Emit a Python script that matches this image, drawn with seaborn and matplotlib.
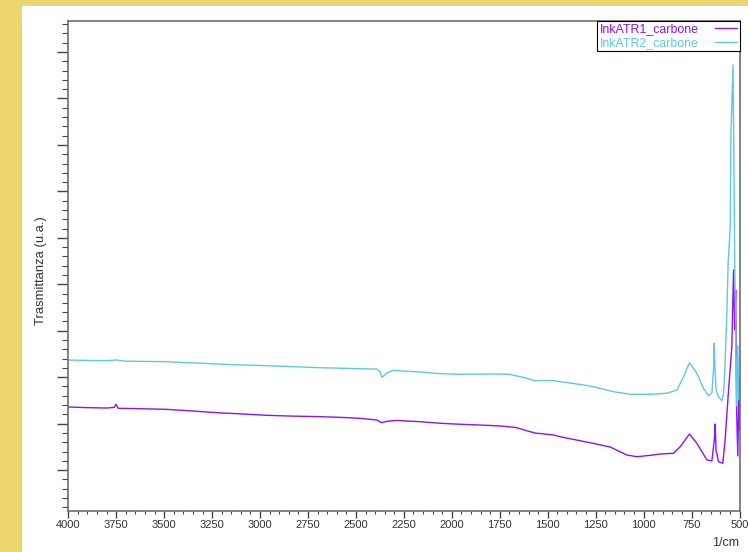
import numpy as np
import pandas as pd
import matplotlib
matplotlib.use("Agg")
import matplotlib.pyplot as plt
import seaborn as sns
from matplotlib.ticker import MultipleLocator, NullFormatter
from matplotlib.patches import Rectangle

# ---- data ----
series_names = ["InkATR1_carbone", "InkATR2_carbone"]
series_colors = ["#8a12ff", "#5cc8ea"]

ink1_wavenumber = [4000, 3900, 3800, 3760, 3751, 3740, 3650, 3490, 3350, 3229, 3100, 2969,
                   2850, 2687, 2550, 2479, 2391, 2375, 2365, 2340, 2287, 2165, 2061, 1957,
                   1850, 1748, 1665, 1620, 1566, 1470, 1435, 1263, 1174, 1087, 1035, 960,
                   914, 844, 809, 761, 722, 670, 644, 630, 627, 622, 618, 610, 587, 575,
                   557, 540, 531, 525, 520, 515, 509, 504, 500]
ink1_value = [11.79, 11.72, 11.68, 11.75, 12.08, 11.65, 11.62, 11.54, 11.36, 11.18, 11.05, 10.90,
              10.82, 10.75, 10.65, 10.57, 10.39, 10.20, 10.10, 10.25, 10.34, 10.21, 10.04, 9.93,
              9.85, 9.75, 9.58, 9.30, 8.99, 8.78, 8.59, 7.88, 7.48, 6.62, 6.44, 6.60,
              6.73, 6.81, 7.52, 8.88, 7.88, 6.09, 5.99, 8.50, 9.96, 7.00, 6.81, 5.90, 5.73, 8.24,
              13.62, 18.28, 26.54, 20.08, 24.38, 11.47, 6.52, 12.54, 9.32]

ink2_wavenumber = [4000, 3900, 3800, 3750, 3700, 3600, 3490, 3400, 3300, 3229, 3100, 2969,
                   2850, 2687, 2550, 2479, 2400, 2391, 2375, 2365, 2350, 2339, 2305, 2250,
                   2165, 2100, 2061, 1957, 1850, 1748, 1700, 1661, 1620, 1566, 1520, 1470,
                   1383, 1278, 1157, 1070, 966, 879, 826, 792, 761, 722, 688, 662, 644,
                   635, 632, 628, 622, 610, 592, 583, 575, 566, 559, 548, 545, 534, 530,
                   525, 520, 515, 509, 504, 500]
ink2_value = [16.85, 16.80, 16.78, 16.85, 16.72, 16.70, 16.67, 16.58, 16.50, 16.42, 16.32, 16.24,
              16.15, 16.02, 15.95, 15.91, 15.88, 15.88, 15.60, 14.99, 15.20, 15.45, 15.74, 15.65,
              15.56, 15.45, 15.38, 15.31, 15.33, 15.34, 15.32, 15.13, 14.95, 14.62, 14.65, 14.62,
              14.37, 14.05, 13.44, 13.16, 13.16, 13.27, 13.62, 15.05, 16.56, 15.42, 13.80, 13.01, 13.27,
              16.00, 18.65, 16.00, 13.62, 12.90, 12.47, 13.27, 16.53, 21.91, 27.29, 31.27, 40.75, 48.60, 40.53,
              27.29, 20.83, 11.90, 18.36, 12.54, 14.70]

x_ticks = [4000, 3750, 3500, 3250, 3000, 2750, 2500, 2250, 2000, 1750, 1500, 1250, 1000, 750, 500]

df = pd.concat([
    pd.DataFrame({"w": ink1_wavenumber, "v": ink1_value, "series": series_names[0]}),
    pd.DataFrame({"w": ink2_wavenumber, "v": ink2_value, "series": series_names[1]}),
], ignore_index=True)

sns.set_theme(style="white")
plt.rcParams["font.family"] = ["Liberation Sans", "DejaVu Sans"]

fig = plt.figure(figsize=(7.48, 5.52), dpi=100)
fig.patch.set_facecolor("#edd56e")
fig.patches.append(Rectangle((22 / 748, 0), (748 - 22) / 748, (552 - 6) / 552,
                             transform=fig.transFigure, facecolor="white",
                             edgecolor="none", zorder=-10))
ax = fig.add_axes([68.3 / 748, 1 - 510.5 / 552, (739.5 - 68.3) / 748, (510.5 - 21) / 552])
ax.set_zorder(5)

sns.lineplot(data=df, x="w", y="v", hue="series", hue_order=series_names,
             palette=dict(zip(series_names, series_colors)), estimator=None,
             sort=False, linewidth=1.0, ax=ax)

ax.set_xlim(4000, 500)
ax.set_ylim(0.65, 53.34)
ax.set_xticks(x_ticks)
ax.set_xticklabels([str(t) for t in x_ticks])
ax.xaxis.set_minor_locator(MultipleLocator(50))
ax.yaxis.set_major_locator(MultipleLocator(5))
ax.yaxis.set_minor_locator(MultipleLocator(1))
ax.yaxis.set_major_formatter(NullFormatter())

ax.tick_params(axis="x", which="major", direction="out", length=5, width=1,
               color="#444444", labelsize=8, labelcolor="#333333", pad=2, bottom=True)
ax.tick_params(axis="x", which="minor", direction="out", length=2.3, width=0.8,
               color="#444444", bottom=True)
ax.tick_params(axis="y", which="major", direction="out", length=8, width=1,
               color="#444444", left=True)
ax.tick_params(axis="y", which="minor", direction="out", length=4, width=0.8,
               color="#444444", left=True)

for s in ax.spines.values():
    s.set_visible(True)
    s.set_color("#6e6e6e")
    s.set_linewidth(1.2)

ax.set_ylabel("Trasmittanza (u.a.)", fontsize=9.4, color="#333333")
ax.yaxis.set_label_coords(-0.031, 0.49)
ax.set_xlabel("1/cm", loc="right", fontsize=9, color="#333333", labelpad=5)

handles, labels = ax.get_legend_handles_labels()
leg = ax.legend(handles, labels, loc="upper right", bbox_to_anchor=(1.0, 1.0),
                borderaxespad=0, markerfirst=False, fancybox=False, framealpha=1,
                edgecolor="black", fontsize=8.9, labelcolor="linecolor",
                handlelength=1.8, handletextpad=1.3, borderpad=0.2,
                labelspacing=0.12)
leg.get_frame().set_linewidth(0.8)

fig.savefig("out.png", dpi=100, facecolor=fig.get_facecolor())
